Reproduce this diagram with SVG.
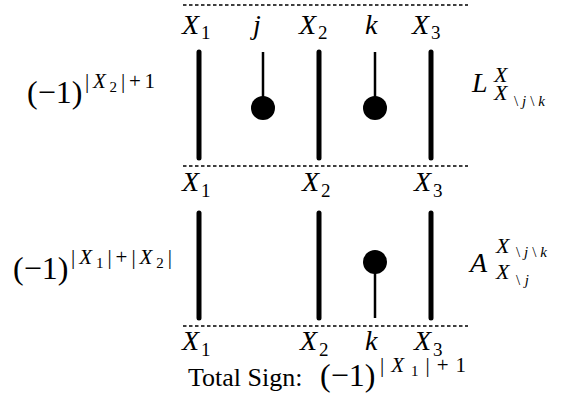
<svg xmlns="http://www.w3.org/2000/svg" width="564" height="409" viewBox="0 0 564 409">
<style>
.bg{fill:#ffffff}
.dash{stroke:#000;stroke-width:1.6;stroke-dasharray:3.5 2.5;fill:none}
.thick{stroke:#000;stroke-width:5;stroke-linecap:round;fill:none}
.thin{stroke:#000;stroke-width:2.5;fill:none}
.dot{fill:#000}
text{font-family:"Liberation Serif","Times New Roman",serif;fill:#000}
.mi{font-style:italic;font-size:28px}
.rm{font-size:32px}
.sub{font-size:19px}
.sup{font-size:21px}
.sx{font-size:22px;font-style:italic}
.ssub{font-size:15px}
.it{font-style:italic}
.tot{font-size:26px}
</style>
<rect class="bg" x="0" y="0" width="564" height="409"/>
<g id="connectors">
<line class="dash" x1="183" y1="5" x2="468" y2="5"/>
<line class="dash" x1="183" y1="166" x2="468" y2="166"/>
<line class="dash" x1="183" y1="326" x2="468" y2="326"/>
</g>
<g id="top-X1"><line class="thick" x1="199" y1="52" x2="199" y2="158"/></g>
<g id="top-j"><line class="thin" x1="263" y1="52" x2="263" y2="108"/><circle class="dot" cx="263" cy="108" r="12"/></g>
<g id="top-X2"><line class="thick" x1="319" y1="52" x2="319" y2="158"/></g>
<g id="top-k"><line class="thin" x1="375" y1="52" x2="375" y2="108"/><circle class="dot" cx="375" cy="108" r="12"/></g>
<g id="top-X3"><line class="thick" x1="431" y1="52" x2="431" y2="158"/></g>
<g id="bot-X1"><line class="thick" x1="199" y1="213" x2="199" y2="318"/></g>
<g id="bot-X2"><line class="thick" x1="319" y1="213" x2="319" y2="318"/></g>
<g id="bot-k"><line class="thin" x1="375" y1="262" x2="375" y2="318"/><circle class="dot" cx="375" cy="262" r="12"/></g>
<g id="bot-X3"><line class="thick" x1="431" y1="213" x2="431" y2="318"/></g>
<g id="labels-top">
<text class="mi" x="182" y="34">X</text><text class="sub" x="201" y="39">1</text>
<text class="mi" x="253" y="34">j</text>
<text class="mi" x="299" y="34">X</text><text class="sub" x="318" y="39">2</text>
<text class="mi" x="365" y="34">k</text>
<text class="mi" x="412" y="34">X</text><text class="sub" x="431" y="39">3</text>
</g>
<g id="labels-mid">
<text class="mi" x="182" y="191">X</text><text class="sub" x="201" y="197">1</text>
<text class="mi" x="302" y="191">X</text><text class="sub" x="321" y="197">2</text>
<text class="mi" x="414" y="191">X</text><text class="sub" x="433" y="197">3</text>
</g>
<g id="labels-bot">
<text class="mi" x="182" y="350">X</text><text class="sub" x="201" y="356">1</text>
<text class="mi" x="300" y="350">X</text><text class="sub" x="319" y="356">2</text>
<text class="mi" x="365" y="350">k</text>
<text class="mi" x="414" y="350">X</text><text class="sub" x="433" y="356">3</text>
</g>
<g id="sign-top">
<text class="rm" x="27" y="103">(−1)</text>
<text class="sup" x="85" y="88" textLength="70" lengthAdjust="spacing">|<tspan class="it">X</tspan><tspan class="ssub" dy="4">2</tspan><tspan dy="-4">|+1</tspan></text>
</g>
<g id="sign-bot">
<text class="rm" x="13" y="279">(−1)</text>
<text class="sup" x="71" y="264" textLength="101" lengthAdjust="spacing">|<tspan class="it">X</tspan><tspan class="ssub" dy="4">1</tspan><tspan dy="-4">|+|</tspan><tspan class="it">X</tspan><tspan class="ssub" dy="4">2</tspan><tspan dy="-4">|</tspan></text>
</g>
<g id="op-L">
<text class="mi" x="472" y="92">L</text>
<text class="sx" x="494" y="82">X</text>
<text class="sx" x="494" y="100">X</text>
<text class="ssub" x="514" y="106" textLength="31" lengthAdjust="spacing">\<tspan class="it">j</tspan>\<tspan class="it">k</tspan></text>
</g>
<g id="op-A">
<text class="mi" x="470" y="272">A</text>
<text class="sx" x="496" y="253">X</text>
<text class="ssub" x="516" y="257" textLength="31" lengthAdjust="spacing">\<tspan class="it">j</tspan>\<tspan class="it">k</tspan></text>
<text class="sx" x="496" y="279">X</text>
<text class="ssub" x="516" y="285" textLength="13" lengthAdjust="spacing">\<tspan class="it">j</tspan></text>
</g>
<g id="total">
<text class="tot" x="188" y="386">Total Sign:</text>
<text class="rm" x="320" y="386">(−1)</text>
<text class="sup" x="380" y="372" textLength="86" lengthAdjust="spacing">|<tspan class="it">X</tspan><tspan class="ssub" dy="4">1</tspan><tspan dy="-4">|+1</tspan></text>
</g>
</svg>
